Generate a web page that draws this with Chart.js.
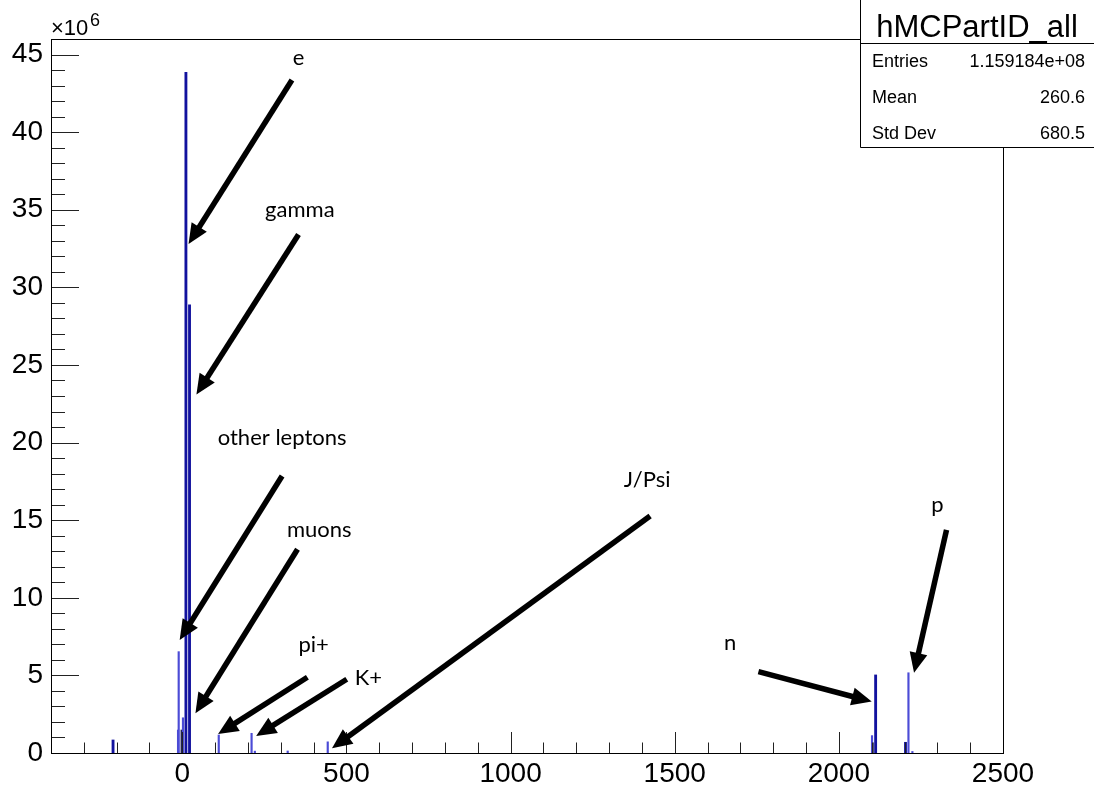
<!DOCTYPE html>
<html>
<head>
<meta charset="utf-8">
<script src="https://cdn.jsdelivr.net/npm/chart.js@4.4.1/dist/chart.umd.min.js"></script>
<style>
  html, body { margin: 0; padding: 0; background: #ffffff; }
  canvas { display: block; }
</style>
</head>
<body>
<canvas id="c" width="1094" height="788"></canvas>
<script>
// ---- Data (PDG particle ID -> number of MC particles) ----
const mainIds     = [-211, 11, 22, 2112, 2203];
const mainCounts  = [0.84e6, 43.86e6, 28.87e6, 5.03e6, 0.69e6];
const minorIds    = [-13, -11, 2, 111, 211, 221, 321, 443, 2101, 2212, 2224];
const minorCounts = [1.48e6, 6.53e6, 2.27e6, 1.16e6, 1.27e6, 0.12e6, 0.13e6, 0.72e6, 1.12e6, 5.17e6, 0.10e6];
const quarkIds    = [-2, 2103];
const quarkCounts = [1.48e6, 0.66e6];

// Axis tick labels
const xTickValues = [0, 500, 1000, 1500, 2000, 2500];
const yTickValues = [0, 5e6, 10e6, 15e6, 20e6, 25e6, 30e6, 35e6, 40e6, 45e6];
const yExponent   = 6;

// Stats box
const statsTitle  = 'hMCPartID_all';
const statsNames  = ['Entries', 'Mean', 'Std Dev'];
const statsValues = ['1.159184e+08', '260.6', '680.5'];

// Annotations (in data units: x = particle ID, y = entries)
const noteLabels = ['e', 'gamma', 'other leptons', 'muons', 'pi+', 'K+', 'J/Psi', 'n', 'p'];
const noteTextX  = [354, 358, 304, 417, 400, 567, 1416, 1669, 2300];
const noteTextY  = [44.8e6, 35.0e6, 20.3e6, 14.37e6, 6.96e6, 4.83e6, 17.6e6, 7.09e6, 15.98e6];
const arrowFromX = [334, 354, 304, 351, 381, 501, 1425, 1755, 2328];
const arrowFromY = [43.36e6, 33.4e6, 17.85e6, 13.13e6, 4.88e6, 4.75e6, 15.27e6, 5.24e6, 14.37e6];
const arrowToX   = [19, 43, -8, 40, 109, 225, 456, 2100, 2229];
const arrowToY   = [32.8e6, 23.1e6, 7.28e6, 2.56e6, 1.22e6, 1.10e6, 0.30e6, 3.31e6, 5.17e6];

const pts = (ids, counts) => ids.map((x, i) => ({ x: x, y: counts[i] }));
const AXIS_FONT = '"Liberation Sans", Arial, Helvetica, sans-serif';

function drawArrow(ctx, x0, y0, x1, y1) {
  const a = Math.atan2(y1 - y0, x1 - x0);
  const L = 20, W = 9;
  const bx = x1 - L * Math.cos(a), by = y1 - L * Math.sin(a);
  ctx.strokeStyle = '#000'; ctx.fillStyle = '#000';
  ctx.lineWidth = 5.5; ctx.lineCap = 'butt';
  ctx.beginPath();
  ctx.moveTo(x0, y0);
  ctx.lineTo(bx + 2 * Math.cos(a), by + 2 * Math.sin(a));
  ctx.stroke();
  ctx.beginPath();
  ctx.moveTo(x1, y1);
  ctx.lineTo(bx - W * Math.sin(a), by + W * Math.cos(a));
  ctx.lineTo(bx + W * Math.sin(a), by - W * Math.cos(a));
  ctx.closePath();
  ctx.fill();
}

const decor = {
  id: 'decor',
  beforeDraw(c) {
    const ctx = c.ctx;
    ctx.save(); ctx.fillStyle = '#fff'; ctx.fillRect(0, 0, c.width, c.height); ctx.restore();
  },
  afterDraw(c) {
    const ctx = c.ctx, ca = c.chartArea, xs = c.scales.x, ys = c.scales.y;
    ctx.save();
    // inner ticks (major at labelled values, minor every 100 / every 1e6)
    ctx.strokeStyle = '#222'; ctx.lineWidth = 1;
    ctx.beginPath();
    for (let v = xs.min; v <= xs.max + 1e-9; v += 100) {
      const px = Math.round(xs.getPixelForValue(v)) + 0.5;
      const len = xTickValues.includes(v) ? 21 : 10.5;
      ctx.moveTo(px, ca.bottom); ctx.lineTo(px, ca.bottom - len);
    }
    for (let v = 1e6; v <= ys.max + 1; v += 1e6) {
      const py = Math.round(ys.getPixelForValue(v)) + 0.5;
      const len = yTickValues.includes(v) ? 28 : 14;
      ctx.moveTo(ca.left, py); ctx.lineTo(ca.left + len, py);
    }
    ctx.stroke();
    // frame
    ctx.strokeStyle = '#000'; ctx.lineWidth = 1;
    ctx.strokeRect(Math.round(ca.left) + 0.5, Math.round(ca.top) + 0.5,
                   Math.round(ca.right - ca.left), Math.round(ca.bottom - ca.top));
    // exponent label
    ctx.fillStyle = '#000'; ctx.textBaseline = 'alphabetic'; ctx.textAlign = 'left';
    ctx.font = '22px ' + AXIS_FONT;
    ctx.fillText('\u00d710', 51, 35);
    ctx.font = '18px ' + AXIS_FONT;
    ctx.fillText(String(yExponent), 90, 26);
    // annotations
    for (let i = 0; i < noteLabels.length; i++) {
      drawArrow(ctx, xs.getPixelForValue(arrowFromX[i]), ys.getPixelForValue(arrowFromY[i]),
                     xs.getPixelForValue(arrowToX[i]), ys.getPixelForValue(arrowToY[i]));
    }
    ctx.fillStyle = '#000'; ctx.textAlign = 'center'; ctx.textBaseline = 'middle';
    ctx.font = '22px Lato, "Open Sans", sans-serif';
    for (let i = 0; i < noteLabels.length; i++) {
      ctx.fillText(noteLabels[i], xs.getPixelForValue(noteTextX[i]), ys.getPixelForValue(noteTextY[i]));
    }
    // stats box
    const bx0 = 860.5, bx1 = 1094, by1 = 147.5;
    ctx.fillStyle = '#fff';
    ctx.fillRect(bx0, 0, bx1 - bx0, by1);
    ctx.strokeStyle = '#000'; ctx.lineWidth = 1;
    ctx.beginPath();
    ctx.moveTo(bx0, 0); ctx.lineTo(bx0, by1); ctx.lineTo(bx1, by1);
    ctx.moveTo(bx0, 43.5); ctx.lineTo(bx1, 43.5);
    ctx.stroke();
    ctx.fillStyle = '#000'; ctx.textBaseline = 'alphabetic';
    ctx.textAlign = 'center'; ctx.font = '31px ' + AXIS_FONT;
    ctx.fillText(statsTitle, 977, 37);
    ctx.font = '18px ' + AXIS_FONT;
    const rowY = [67, 103, 139];
    for (let i = 0; i < statsNames.length; i++) {
      ctx.textAlign = 'left'; ctx.fillText(statsNames[i], 872, rowY[i]);
      ctx.textAlign = 'right'; ctx.fillText(statsValues[i], 1085, rowY[i]);
    }
    ctx.restore();
  }
};

new Chart(document.getElementById('c'), {
  type: 'bar',
  data: {
    datasets: [
      { data: pts(minorIds, minorCounts), backgroundColor: '#4b4bd6', barThickness: 1.5, grouped: false },
      { data: pts(quarkIds, quarkCounts), backgroundColor: '#1a1a48', barThickness: 1.5, grouped: false },
      { data: pts(mainIds, mainCounts), backgroundColor: '#12129e', barThickness: 2.2, grouped: false }
    ]
  },
  options: {
    responsive: false,
    animation: false,
    events: [],
    layout: { padding: { top: 39, right: 91, left: 0, bottom: 0 } },
    plugins: { legend: { display: false }, tooltip: { enabled: false } },
    scales: {
      x: {
        type: 'linear', min: -400, max: 2500, offset: false,
        grid: { display: false, drawTicks: false }, border: { display: false },
        afterBuildTicks: s => { s.ticks = xTickValues.map(v => ({ value: v })); },
        ticks: {
          autoSkip: false, maxRotation: 0, minRotation: 0, padding: 4,
          color: '#000', font: { family: AXIS_FONT, size: 28 },
          callback: v => String(v)
        },
        afterFit: s => { s.height = 35; }
      },
      y: {
        min: 0, max: 46e6,
        grid: { display: false, drawTicks: false }, border: { display: false },
        afterBuildTicks: s => { s.ticks = yTickValues.map(v => ({ value: v })); },
        ticks: {
          autoSkip: false, padding: 8,
          color: '#000', font: { family: AXIS_FONT, size: 28 },
          callback: v => String(v / Math.pow(10, yExponent))
        },
        afterFit: s => { s.width = 51; }
      }
    }
  },
  plugins: [decor]
});
</script>
</body>
</html>
